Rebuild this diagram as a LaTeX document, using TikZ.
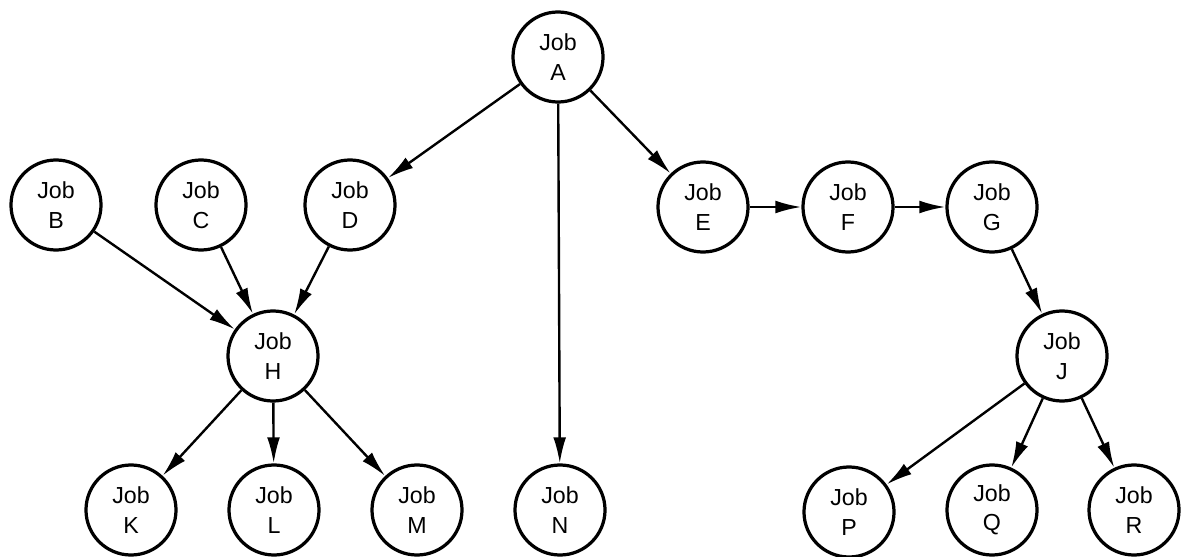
\documentclass[tikz,border=0pt]{standalone}
\usepackage{fontspec}
\setmainfont{Liberation Sans}
\usetikzlibrary{arrows.meta}
\begin{document}
\begin{tikzpicture}[x=0.025cm, y=-0.025cm,
            job/.style = {shape=circle, draw, line width=2.3pt,
                          minimum size=2.25cm, inner sep=0pt, align=center,
                          font=\fontsize{16.5}{21}\selectfont},
            link/.style = {line width=1.7pt,
                           -{Latex[length=6.5mm,width=3.2mm]}}]
            \useasboundingbox (0,0) rectangle (1188,557);
            % top
            \node[job] (A) at (558,57) {Job\\A};
            % second row
            \node[job] (B) at (56,205) {Job\\B};
            \node[job] (C) at (201,205) {Job\\C};
            \node[job] (D) at (350,205) {Job\\D};
            \node[job] (E) at (703,207) {Job\\E};
            \node[job] (F) at (848,207) {Job\\F};
            \node[job] (G) at (992,207) {Job\\G};
            % third row
            \node[job] (H) at (273,356) {Job\\H};
            \node[job] (J) at (1062,356) {Job\\J};
            % bottom row
            \node[job] (K) at (131,510) {Job\\K};
            \node[job] (L) at (274,510) {Job\\L};
            \node[job] (M) at (417,510) {Job\\M};
            \node[job] (N) at (560,510) {Job\\N};
            \node[job] (P) at (849,512) {Job\\P};
            \node[job] (Q) at (992,510) {Job\\Q};
            \node[job] (R) at (1134,510) {Job\\R};
            % arrows
            \foreach \from/\to in {A/D, A/N, A/E, B/H, C/H, D/H, E/F, F/G,
                                   G/J, H/K, H/L, H/M, J/P, J/Q, J/R}
                \draw[link] (\from) -- (\to);
\end{tikzpicture}
\end{document}
